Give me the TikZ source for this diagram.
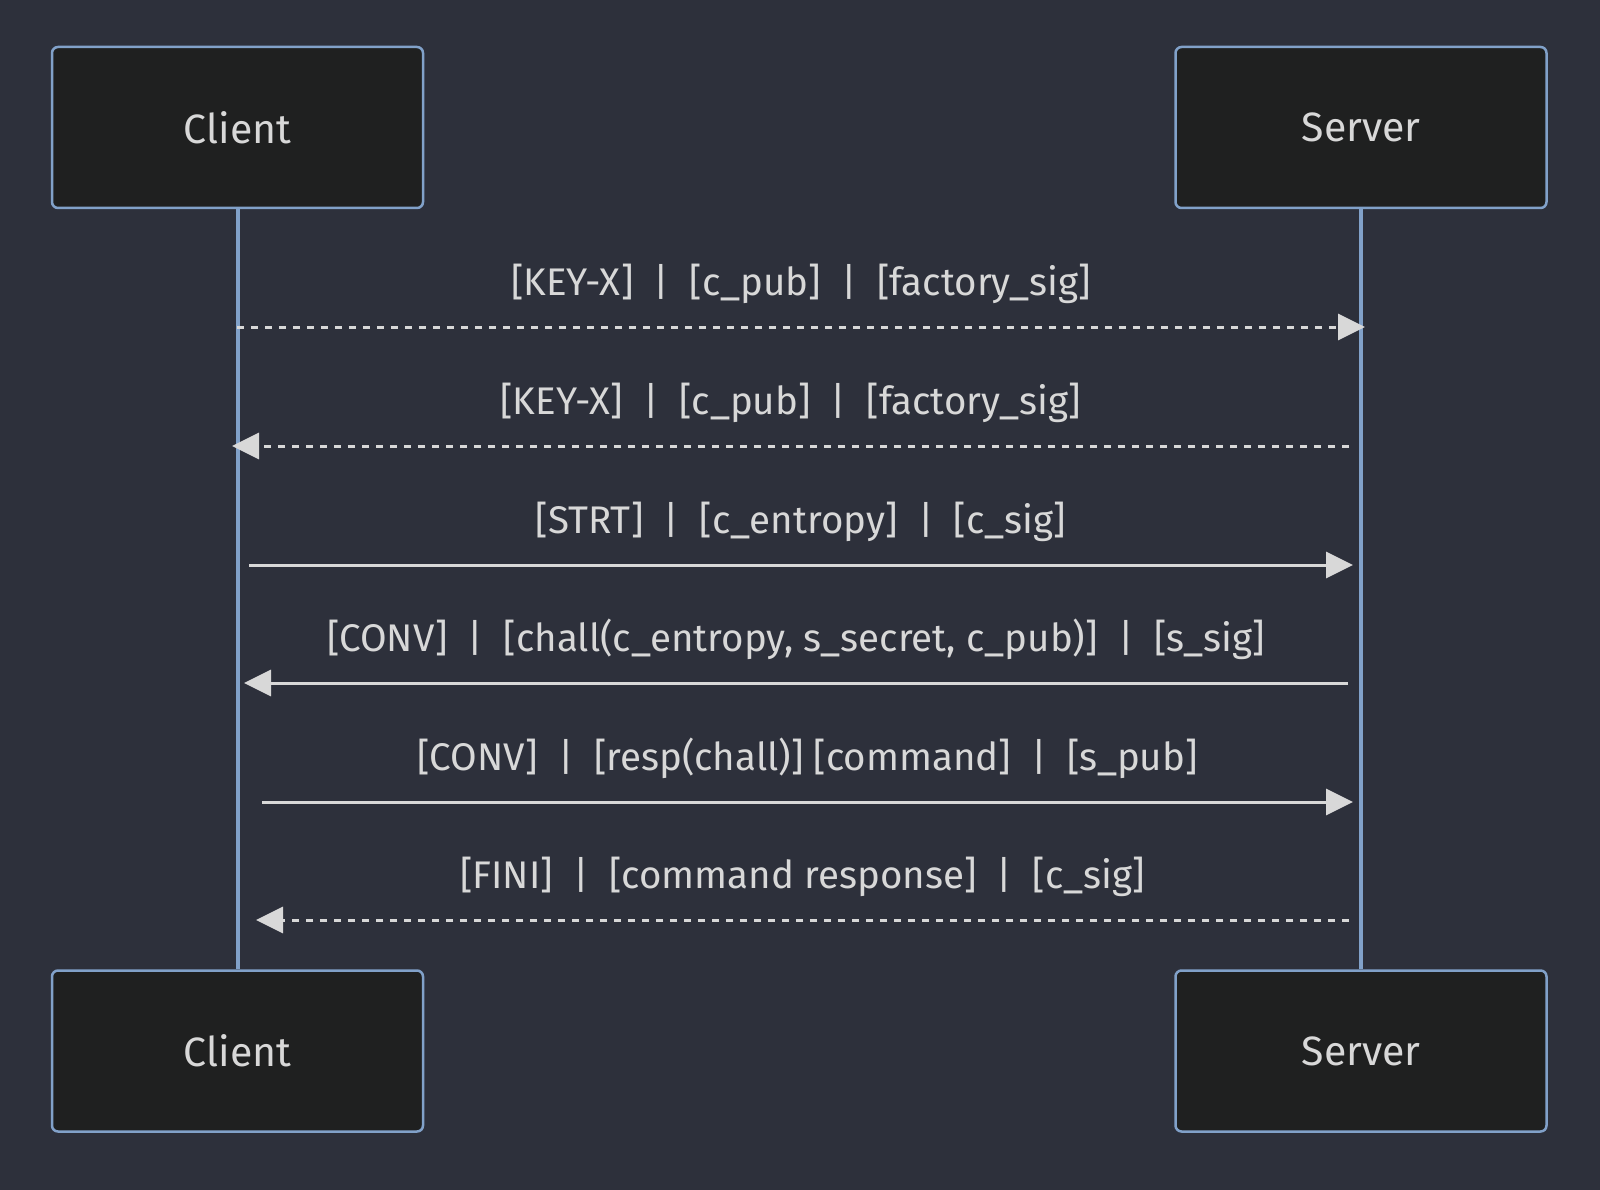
\documentclass[tikz,border=0pt]{standalone}
\usepackage{fontspec}
\setmainfont{Fira Sans}
\usetikzlibrary{arrows.meta,positioning}
\definecolor{bgcol}{HTML}{2D303B}
\definecolor{boxfill}{HTML}{1F2020}
\definecolor{boxline}{HTML}{81A1C9}
\definecolor{msgcol}{HTML}{D8D8D8}
\tikzset{
  actor/.style={rectangle,draw=boxline,fill=boxfill,line width=2.5pt,rounded corners=6pt,
    minimum width=371pt,minimum height=161pt,text=msgcol,font=\fontsize{41}{45}\selectfont},
  lifeline/.style={draw=boxline,line width=4pt},
  msg/.style={draw=msgcol,line width=3pt,-{Triangle[length=27pt,width=26pt]}},
  reply/.style={msg,dash pattern=on 7pt off 7pt},
  lbl/.style={midway,above=22pt,inner sep=0pt,text=msgcol,font=\fontsize{38.5}{42}\selectfont}
}
\begin{document}
\begin{tikzpicture}[x=1pt,y=-1pt]
    \fill[bgcol] (0,0) rectangle (1600,1190);
    \useasboundingbox (0,0) rectangle (1600,1190);
    \node[actor] (client_top) at (237.5,127.5) {Client};
    \node[actor] (server_top) at (1361,127.5) {Server};
    \node[actor,below=760pt of client_top] (client_bot) {Client};
    \node[actor,below=760pt of server_top] (server_bot) {Server};

    \draw[lifeline] (client_top) -- (client_bot) ;
    \draw[lifeline] (server_top) -- (server_bot) ;

    \coordinate (c1) at (237,327) ;  \coordinate (s1) at (1365,327) ;
    \coordinate (s2) at (1349,446) ; \coordinate (c2) at (232,446) ;
    \coordinate (c3) at (249,565) ;  \coordinate (s3) at (1353,565) ;
    \coordinate (s4) at (1348,683) ; \coordinate (c4) at (244,683) ;
    \coordinate (c5) at (262,802) ;  \coordinate (s5) at (1353,802) ;
    \coordinate (s6) at (1349,920) ; \coordinate (c6) at (256,920) ;

    \draw[reply] (c1) -- node[lbl] {[KEY-X] \ | \ [c\_pub] \ | \ [factory\_sig]} (s1) ;
    \draw[reply] (s2) -- node[lbl] {[KEY-X] \ | \ [c\_pub] \ | \ [factory\_sig]} (c2) ;
    \draw[msg] (c3) -- node[lbl] {[STRT] \ | \ [c\_entropy] \ | \ [c\_sig]} (s3) ;
    \draw[msg] (s4) -- node[lbl] {[CONV] \ | \ [chall(c\_entropy, s\_secret, c\_pub)] \ | \ [s\_sig]} (c4) ;
    \draw[msg] (c5) -- node[lbl] {[CONV] \ | \ [resp(chall)] [command] \ | \ [s\_pub]} (s5) ;
    \draw[reply] (s6) -- node[lbl] {[FINI] \ | \ [command response] \ | \ [c\_sig]} (c6) ;
\end{tikzpicture}
\end{document}
